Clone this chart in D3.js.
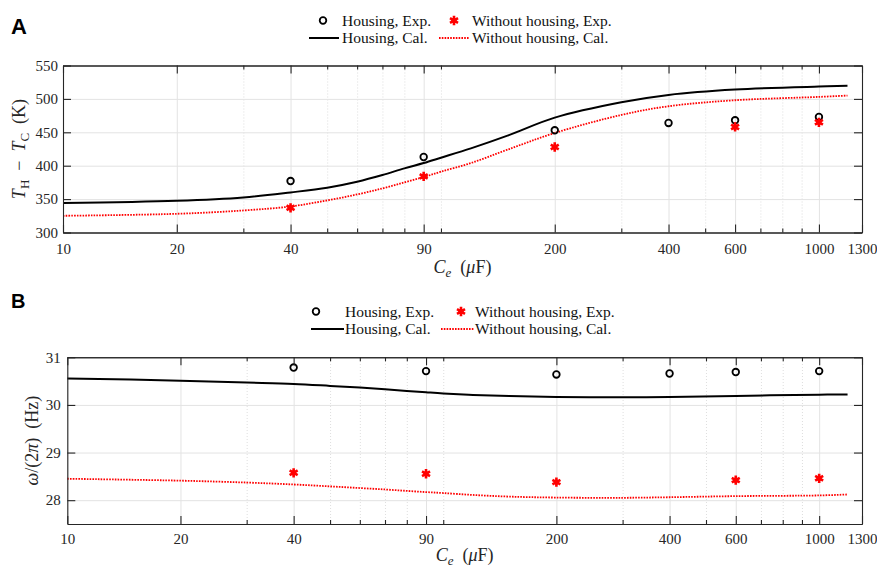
<!DOCTYPE html>
<html><head><meta charset="utf-8">
<script src="https://cdn.jsdelivr.net/npm/d3@7"></script>
<style>body{margin:0;background:#fff}</style>
</head><body><svg id="c" width="877" height="567"></svg>
<script>
// ---------- data ----------
const xTickValues = [10, 20, 40, 90, 200, 400, 600, 1000, 1300];
const xTickLabels = ["10", "20", "40", "90", "200", "400", "600", "1000", "1300"];
const xMinorTicks = [30, 50, 60, 70, 80, 100, 300, 500, 700, 800, 900];

const expX = [40, 90, 200, 400, 600, 1000];
const expXNoHousing = [40, 90, 200, 600, 1000];
const calX = [10, 20, 30, 40, 50, 60, 70, 80, 90, 100, 120, 150, 200, 300, 400, 600, 1000, 1190];

// Panel A: T_H - T_C (K)
const dTHousingExp = [377, 413, 453, 464, 468, 473];
const dTNoHousingExp = [337, 384, 428, 458, 465];
const dTHousingCal = [344, 347.5, 352.5, 360, 367, 376, 386, 396, 404, 412, 426, 445, 472, 495, 506, 514, 518.5, 519.5];
const dTNoHousingCal = [325, 328, 333, 339, 348, 357, 366, 375, 383, 391, 404, 424, 449, 476, 489, 498, 503, 505];
const yTicksA = [300, 350, 400, 450, 500, 550];

// Panel B: omega/(2 pi) (Hz)
const fHousingExp = [30.785, 30.71, 30.64, 30.66, 30.69, 30.71];
const fNoHousingExp = [28.575, 28.555, 28.38, 28.42, 28.46];
const fHousingCal = [30.555, 30.51, 30.47, 30.44, 30.40, 30.365, 30.33, 30.295, 30.265, 30.24, 30.21, 30.185, 30.168, 30.16, 30.168, 30.19, 30.215, 30.22];
const fNoHousingCal = [28.45, 28.41, 28.37, 28.33, 28.29, 28.255, 28.225, 28.195, 28.17, 28.15, 28.11, 28.075, 28.055, 28.05, 28.062, 28.085, 28.10, 28.12];
const yTicksB = [28, 29, 30, 31];

const legendLabels = ["Housing, Exp.", "Without housing, Exp.", "Housing, Cal.", "Without housing, Cal."];

// ---------- drawing ----------
const svg = d3.select("#c");
const SERIF = "'Liberation Serif','Times New Roman',serif";
const AX = "#262626";
const RED = "#ff0000";
const star = d3.symbol().type(d3.symbolAsterisk).size(60);

function drawStar(sel) {
  sel.append("circle").attr("r", 2.6).attr("fill", RED);
  sel.append("path").attr("d", star).attr("fill", "none").attr("stroke", RED).attr("stroke-width", 2.6);
}

function panel(cfg) {
  const g = svg.append("g");
  const x = d3.scaleLog().domain([10, 1300]).range([cfg.left, cfg.right]);
  const y = d3.scaleLinear().domain(cfg.yDomain).range([cfg.bottom, cfg.top]);
  const H = cfg.bottom - cfg.top, W = cfg.right - cfg.left;

  // grid
  g.append("g").attr("transform", `translate(0,${cfg.bottom})`)
    .call(d3.axisBottom(x).tickValues(xTickValues).tickSize(-H).tickFormat(""))
    .call(a => { a.select(".domain").remove(); a.selectAll("line").attr("stroke", "#e3e3e3").attr("stroke-width", 1); });
  g.append("g").attr("transform", `translate(0,${cfg.bottom})`)
    .call(d3.axisBottom(x).tickValues(xMinorTicks).tickSize(-H).tickFormat(""))
    .call(a => { a.select(".domain").remove(); a.selectAll("line").attr("stroke", "#d6d6d6").attr("stroke-width", 0.8).attr("stroke-dasharray", "1,2"); });
  g.append("g").attr("transform", `translate(${cfg.left},0)`)
    .call(d3.axisLeft(y).tickValues(cfg.yTicks).tickSize(-W).tickFormat(""))
    .call(a => { a.select(".domain").remove(); a.selectAll("line").attr("stroke", "#e3e3e3").attr("stroke-width", 1); });

  // lines
  const line = vals => d3.line().x((d, i) => x(calX[i])).y(d => y(d)).curve(d3.curveCatmullRom.alpha(0.5))(vals);
  g.append("path").attr("d", line(cfg.noHousingCal)).attr("fill", "none")
    .attr("stroke", RED).attr("stroke-width", 1.8).attr("stroke-dasharray", "1.6,1.2");
  g.append("path").attr("d", line(cfg.housingCal)).attr("fill", "none")
    .attr("stroke", "#000").attr("stroke-width", 2);

  // markers
  g.selectAll("circle.h").data(cfg.housingExp).join("circle")
    .attr("cx", (d, i) => x(expX[i])).attr("cy", d => y(d)).attr("r", 3.3)
    .attr("fill", "none").attr("stroke", "#000").attr("stroke-width", 1.8);
  g.selectAll("g.s").data(cfg.noHousingExp).join("g")
    .attr("transform", (d, i) => `translate(${x(expXNoHousing[i])},${y(d)})`)
    .call(drawStar);

  // axes box
  const tickStyle = a => { a.select(".domain").attr("stroke", AX).attr("stroke-width", 1.1); a.selectAll("line").attr("stroke", AX).attr("stroke-width", 1.1); };
  const bottom = g.append("g").attr("transform", `translate(0,${cfg.bottom})`)
    .call(d3.axisBottom(x).tickValues(xTickValues).tickSizeInner(-8).tickSizeOuter(0).tickPadding(cfg.xpad)
      .tickFormat((d, i) => xTickLabels[i]))
    .call(tickStyle)
    .attr("font-family", SERIF).attr("font-size", 15);
  bottom.selectAll("text").attr("font-family", SERIF).attr("font-size", 15).attr("fill", AX);
  g.append("g").attr("transform", `translate(0,${cfg.bottom})`)
    .call(d3.axisBottom(x).tickValues(xMinorTicks).tickSizeInner(-4).tickSizeOuter(0).tickFormat(""))
    .call(tickStyle);
  g.append("g").attr("transform", `translate(0,${cfg.top})`)
    .call(d3.axisTop(x).tickValues(xTickValues).tickSizeInner(-8).tickSizeOuter(0).tickFormat(""))
    .call(tickStyle);
  g.append("g").attr("transform", `translate(0,${cfg.top})`)
    .call(d3.axisTop(x).tickValues(xMinorTicks).tickSizeInner(-4).tickSizeOuter(0).tickFormat(""))
    .call(tickStyle);
  const left = g.append("g").attr("transform", `translate(${cfg.left},0)`)
    .call(d3.axisLeft(y).tickValues(cfg.yTicks).tickSizeInner(-8).tickSizeOuter(0).tickPadding(cfg.ypad)
      .tickFormat(d3.format("d")))
    .call(tickStyle)
    .attr("font-family", SERIF).attr("font-size", 15);
  left.selectAll("text").attr("font-family", SERIF).attr("font-size", 15).attr("fill", AX);
  g.append("g").attr("transform", `translate(${cfg.right},0)`)
    .call(d3.axisRight(y).tickValues(cfg.yTicks).tickSizeInner(-8).tickSizeOuter(0).tickFormat(""))
    .call(tickStyle);

  // x label
  const xl = g.append("text").attr("x", (cfg.left + cfg.right) / 2).attr("y", cfg.bottom + cfg.xlOff)
    .attr("text-anchor", "middle").attr("font-family", SERIF).attr("font-size", 18).attr("fill", AX);
  xl.append("tspan").attr("font-style", "italic").text("C");
  xl.append("tspan").attr("font-style", "italic").attr("font-size", 13).attr("dy", 4).text("e");
  xl.append("tspan").attr("dy", -4).text("\u2002(");
  xl.append("tspan").attr("font-style", "italic").text("\u03bc");
  xl.append("tspan").text("F)");

  // y label
  const yl = g.append("text").attr("transform", `translate(${cfg.ylx},${(cfg.top + cfg.bottom) / 2}) rotate(-90)`)
    .attr("text-anchor", "middle").attr("font-family", SERIF).attr("font-size", 18).attr("fill", AX);
  cfg.ylabel(yl);

  // panel letter
  svg.append("text").attr("x", 11).attr("y", cfg.letterY).attr("font-family", "'Liberation Sans',Arial,sans-serif")
    .attr("font-weight", "bold").attr("font-size", cfg.letterSize).attr("fill", "#000").text(cfg.letter);

  // legend
  const L = cfg.legend;
  const lg = svg.append("g").attr("font-family", SERIF).attr("font-size", 15.5).attr("fill", "#111");
  lg.append("circle").attr("cx", L.c1).attr("cy", L.y1).attr("r", 3.3).attr("fill", "none").attr("stroke", "#000").attr("stroke-width", 1.8);
  lg.append("text").attr("x", L.t1).attr("y", L.y1 + 5).text(legendLabels[0]);
  lg.append("g").attr("transform", `translate(${L.c2},${L.y1})`).call(drawStar);
  lg.append("text").attr("x", L.t2).attr("y", L.y1 + 5).text(legendLabels[1]);
  lg.append("line").attr("x1", L.l1[0]).attr("x2", L.l1[1]).attr("y1", L.y2).attr("y2", L.y2).attr("stroke", "#000").attr("stroke-width", 2);
  lg.append("text").attr("x", L.t1).attr("y", L.y2 + 5).text(legendLabels[2]);
  lg.append("line").attr("x1", L.l2[0]).attr("x2", L.l2[1]).attr("y1", L.y2).attr("y2", L.y2).attr("stroke", RED).attr("stroke-width", 1.8).attr("stroke-dasharray", "1.6,1.2");
  lg.append("text").attr("x", L.t2).attr("y", L.y2 + 5).text(legendLabels[3]);
}

panel({
  left: 63, right: 862, top: 65.5, bottom: 232.5,
  yDomain: [300, 550], yTicks: yTicksA, ypad: 5, xpad: 10.5, xlOff: 40,
  housingExp: dTHousingExp, noHousingExp: dTNoHousingExp,
  housingCal: dTHousingCal, noHousingCal: dTNoHousingCal,
  ylx: 25,
  ylabel: t => {
    t.append("tspan").attr("font-style", "italic").text("T");
    t.append("tspan").attr("font-size", 13).attr("dy", 4).text("H");
    t.append("tspan").attr("dy", -4).text("\u2002\u2212\u2002");
    t.append("tspan").attr("font-style", "italic").text("T");
    t.append("tspan").attr("font-size", 13).attr("dy", 4).text("C");
    t.append("tspan").attr("dy", -4).text("\u2002(K)");
  },
  letter: "A", letterY: 34, letterSize: 22,
  legend: { y1: 20.5, y2: 38, c1: 323, t1: 342, c2: 454, t2: 472, l1: [309, 339], l2: [439, 469] }
});

panel({
  left: 67.3, right: 862, top: 357.3, bottom: 524,
  yDomain: [27.5, 31], yTicks: yTicksB, ypad: 6.5, xpad: 9.5, xlOff: 37,
  housingExp: fHousingExp, noHousingExp: fNoHousingExp,
  housingCal: fHousingCal, noHousingCal: fNoHousingCal,
  ylx: 38,
  ylabel: t => {
    t.append("tspan").attr("font-style", "italic").text("\u03c9");
    t.append("tspan").text("/(2");
    t.append("tspan").attr("font-style", "italic").text("\u03c0");
    t.append("tspan").text(")\u2002(Hz)");
  },
  letter: "B", letterY: 308, letterSize: 20,
  legend: { y1: 311.5, y2: 329, c1: 316, t1: 345, c2: 461, t2: 475, l1: [311, 344], l2: [441, 474] }
});
</script>
</body></html>
